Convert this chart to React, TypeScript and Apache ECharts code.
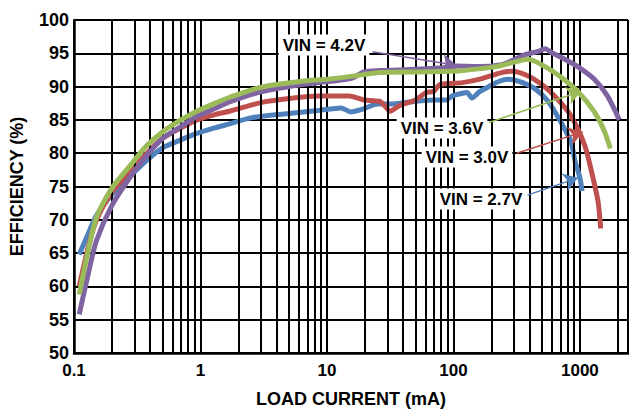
import React, { useEffect, useRef } from "react";
import * as echarts from "echarts";

const vin27: [number, number][] = [
  [0.11, 64.8], [0.13, 68], [0.15, 70.6], [0.2, 73.8], [0.28, 76.6], [0.37, 78.8],
  [0.5, 80.8], [0.7, 82], [0.91, 82.9], [1.3, 83.8], [1.7, 84.4], [2.5, 85.3],
  [4.6, 85.9], [8.5, 86.4], [12.9, 86.8], [15.4, 86.2], [19, 86.6], [25, 87.4],
  [33, 87.4], [50, 87.8], [73, 88], [88, 88], [98, 88.6], [118, 89], [128, 89.1],
  [140, 88.3], [160, 89.2], [190, 90], [230, 90.8], [270, 91.1], [330, 90.8],
  [440, 89.7], [560, 87.8], [710, 84.6], [850, 81.7], [915, 78.8], [1000, 76.3], [1040, 74.3],
];
const vin30: [number, number][] = [
  [0.11, 60], [0.13, 66], [0.15, 69.9], [0.2, 74.2], [0.28, 77.3], [0.37, 79.8],
  [0.5, 82.2], [0.7, 83.8], [0.91, 84.9], [1.3, 85.8], [1.7, 86.3], [3, 87.6],
  [5, 88.2], [8.5, 88.6], [15, 88.6], [19.5, 88], [26, 87.8], [29, 87], [31.6, 86.3],
  [37, 87.1], [50, 88], [61, 89.1], [70, 89.3], [78, 90.3], [118, 90.6], [168, 91.2],
  [240, 92.1], [290, 92.3], [390, 91.6], [500, 90.3], [630, 88.6], [810, 86.2],
  [960, 83.7], [1100, 81], [1220, 77.7], [1390, 72.8], [1460, 68.7],
];
const vin36: [number, number][] = [
  [0.11, 58.8], [0.13, 65.5], [0.15, 70.3], [0.2, 74.8], [0.28, 78.2], [0.37, 81],
  [0.5, 83.2], [0.7, 85], [0.91, 86.2], [1.3, 87.5], [1.7, 88.4], [3, 89.9],
  [6.3, 90.8], [10, 91.1], [15, 91.5], [19.5, 91.8], [26, 92.1], [50, 92.2],
  [93, 92.3], [118, 92.4], [220, 93], [290, 93.6], [390, 94.1], [530, 93],
  [710, 91.4], [960, 89.3], [1300, 86.2], [1570, 83.2], [1740, 80.7],
];
const vin42: [number, number][] = [
  [0.11, 55.8], [0.13, 62], [0.15, 66.8], [0.2, 72.2], [0.28, 76.5], [0.37, 79.5],
  [0.5, 82.2], [0.7, 84], [0.91, 85.4], [1.3, 86.7], [1.7, 87.7], [3, 89.2],
  [6.3, 90.3], [8.5, 90.6], [13, 91], [16, 91.3], [19.5, 92.2], [26, 92.4],
  [50, 92.6], [93, 92.9], [105, 93.1], [160, 93], [240, 93.3], [290, 93.9],
  [370, 94.8], [470, 95.3], [530, 95.7], [600, 95.1], [710, 94.4], [960, 93],
  [1300, 91.1], [1650, 88.6], [2050, 85],
];

const seriesNames = ["VIN = 2.7V", "VIN = 3.0V", "VIN = 4.2V", "VIN = 3.6V"];
const seriesColors = ["#4F81BD", "#C0504D", "#8064A2", "#9BBB59"];
const seriesData = [vin27, vin30, vin42, vin36];
// arrow start / tip in data coordinates
const arrows: [[number, number], [number, number]][] = [
  [[385, 73.7], [964, 76.3]],
  [[316, 80], [1055, 83.2]],
  [[22.9, 95.25], [105, 93.2]],
  [[191, 84.6], [1018, 89.3]],
];
const labelPos: [number, number][] = [
  [481, 199],
  [467, 157],
  [324, 45],
  [442, 128],
];
const minorGrid: number[] = [
  0.2, 0.3, 0.4, 0.5, 0.6, 0.7, 0.8, 0.9,
  2, 3, 4, 5, 6, 7, 8, 9,
  20, 30, 40, 50, 60, 70, 80, 90,
  200, 300, 400, 500, 600, 700, 800, 900,
  2000,
];

const FONT = "'Liberation Sans', Arial, sans-serif";

export default function App() {
  const ref = useRef<HTMLDivElement>(null);
  useEffect(() => {
    document.body.style.margin = "0";
    const chart = echarts.init(ref.current!, null, { renderer: "svg" });
    const series: any[] = [
      {
        type: "line",
        data: [[0.1, 50]],
        symbol: "none",
        lineStyle: { width: 0 },
        silent: true,
        z: 1,
        markLine: {
          silent: true,
          symbol: ["none", "none"],
          label: { show: false },
          lineStyle: { color: "#000", width: 2, type: "solid" },
          data: minorGrid.map((v) => ({ xAxis: v })),
          animation: false,
        },
      },
    ];
    seriesData.forEach((d, i) => {
      series.push({
        type: "line",
        name: seriesNames[i],
        data: d,
        symbol: "none",
        smooth: 0.25,
        z: 3 + i,
        lineStyle: { color: seriesColors[i], width: 5 },
        itemStyle: { color: seriesColors[i] },
        markLine: {
          silent: true,
          symbol: ["none", "arrow"],
          symbolSize: 14,
          label: { show: false },
          lineStyle: { color: seriesColors[i], width: 1.5, type: "solid" },
          itemStyle: { color: seriesColors[i] },
          data: [[{ coord: arrows[i][0] }, { coord: arrows[i][1] }]],
          animation: false,
        },
      });
    });
    chart.setOption({
      animation: false,
      grid: { left: 70, right: 0, top: 20, bottom: 56, containLabel: false },
      xAxis: {
        type: "log",
        logBase: 10,
        min: 0.1,
        max: 2400,
        name: "LOAD CURRENT (mA)",
        nameLocation: "middle",
        nameGap: 37,
        nameTextStyle: { fontFamily: FONT, fontWeight: "bold", fontSize: 18, color: "#000" },
        axisLine: { show: true, lineStyle: { color: "#000", width: 2.5 } },
        axisTick: { show: false },
        splitLine: { show: true, lineStyle: { color: "#000", width: 2 } },
        axisLabel: {
          margin: 9,
          fontFamily: FONT,
          fontWeight: "bold",
          fontSize: 17,
          color: "#000",
          formatter: (v: number) => {
            const l = Math.log10(v);
            if (Math.abs(l - Math.round(l)) > 1e-6) return "";
            return v < 1 ? "0.1" : String(Math.round(v));
          },
        },
      },
      yAxis: {
        type: "value",
        min: 50,
        max: 100,
        interval: 5,
        name: "EFFICIENCY (%)",
        nameLocation: "middle",
        nameGap: 48,
        nameTextStyle: { fontFamily: FONT, fontWeight: "bold", fontSize: 18, color: "#000" },
        axisLine: { show: true, lineStyle: { color: "#000", width: 2.5 } },
        axisTick: { show: false },
        splitLine: { show: true, lineStyle: { color: "#000", width: 2 } },
        axisLabel: { margin: 5, fontFamily: FONT, fontWeight: "bold", fontSize: 18, color: "#000" },
      },
      series,
      graphic: seriesNames.map((n, i) => ({
        type: "text",
        x: labelPos[i][0],
        y: labelPos[i][1],
        z: 100,
        style: {
          text: n,
          fill: "#000",
          font: `bold 17px ${FONT}`,
          textAlign: "center",
          textVerticalAlign: "middle",
          backgroundColor: "#fff",
          padding: [2, 4],
        },
      })),
    });
    return () => chart.dispose();
  }, []);
  return <div ref={ref} style={{ width: 631, height: 413 }} />;
}
